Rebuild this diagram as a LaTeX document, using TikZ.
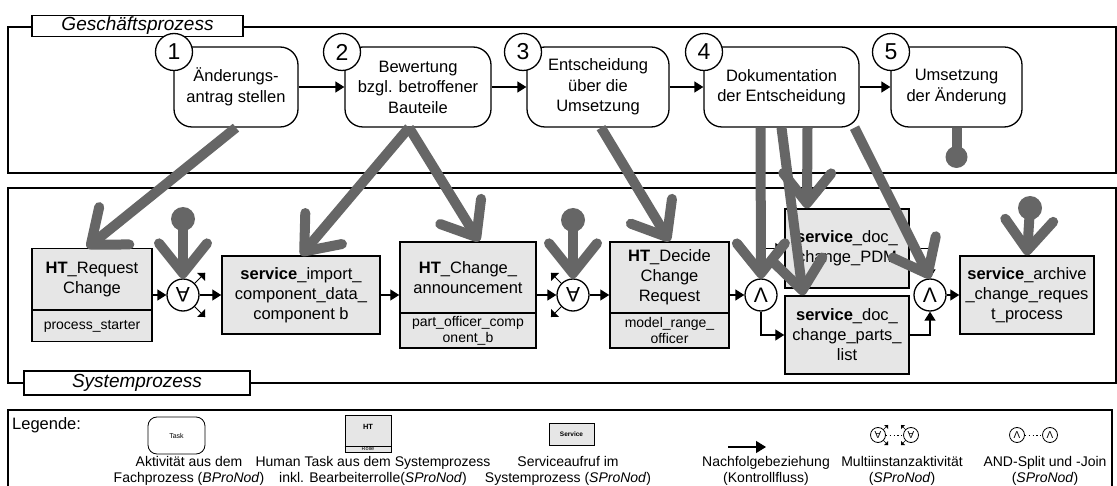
\documentclass[tikz,border=0pt]{standalone}
\usepackage{fontspec}
\usepackage{graphicx}
\setmainfont{Liberation Sans}
\usetikzlibrary{arrows.meta,calc}
\definecolor{garr}{RGB}{102,102,102}
\definecolor{boxfill}{RGB}{230,230,230}
\newcommand{\allq}{\scalebox{1}[-1]{A}}
\begin{document}
\begin{tikzpicture}[x=1pt,y=-1pt,
  frame/.style={draw, line width=1.3pt},
  lbl/.style={draw, line width=1.3pt, fill=white, font=\fontsize{19}{22}\selectfont\itshape, inner sep=0pt},
  task/.style={draw, line width=1.3pt, rounded corners=18pt, fill=white, align=center, font=\fontsize{16.5}{20.5}\selectfont, inner sep=0pt},
  num/.style={circle, draw, line width=1.3pt, fill=white, minimum size=37pt, inner sep=0pt, font=\fontsize{23}{23}\selectfont},
  flow/.style={draw, line width=1.3pt, -{Triangle[length=9pt,width=11pt]}},
  sbox/.style={draw, line width=1.5pt, fill=boxfill, inner sep=0pt, align=center, font=\fontsize{16.5}{20}\selectfont},
  stxt/.style={align=center, font=\fontsize{16.5}{20}\selectfont, inner sep=0pt},
  rtxt/.style={align=center, font=\fontsize{14}{16}\selectfont, inner sep=0pt},
  gate/.style={circle, draw, line width=1.3pt, fill=white, minimum size=32pt, inner sep=0pt, font=\fontsize{21}{21}\selectfont},
  garrow/.style={draw=garr, line width=10pt, -{Straight Barb[length=30pt,width=48pt,round]}},
  ball/.style={circle, fill=garr, minimum size=24pt, inner sep=0pt},
  leg/.style={align=center, font=\fontsize{14}{16}\selectfont, inner sep=0pt},
  lgate/.style={circle, draw, line width=0.8pt, fill=white, minimum size=15pt, inner sep=0pt, font=\fontsize{10}{10}\selectfont},
]
\useasboundingbox (0,0) rectangle (1117,486);

% frames
\draw[frame] (8,27) rectangle (1116,173);
\node[lbl, minimum width=211pt, minimum height=21pt] (gp) at (137.5,26) {Geschäftsprozess};
\draw[frame] (8,188) rectangle (1116,383);
\node[lbl, minimum width=226pt, minimum height=24pt] (sp) at (137,383) {Systemprozess};

% business tasks
\node[task, minimum width=124pt, minimum height=80pt] (t1) at (236,87) {Änderungs-\\antrag stellen};
\node[task, minimum width=146pt, minimum height=80pt] (t2) at (418,87) {Bewertung\\bzgl. betroffener\\Bauteile};
\node[task, minimum width=142pt, minimum height=80pt] (t3) at (598,87) {Entscheidung\\über die\\Umsetzung};
\node[task, minimum width=155pt, minimum height=80pt] (t4) at (781.5,87) {Dokumentation\\der Entscheidung};
\node[task, minimum width=131pt, minimum height=80pt] (t5) at (956.5,87) {Umsetzung\\der Änderung};
\draw[flow] (t1.east) -- (t2.west);
\draw[flow] (t2.east) -- (t3.west);
\draw[flow] (t3.east) -- (t4.west);
\draw[flow] (t4.east) -- (t5.west);
\node[num] (n1) at (174,52) {1};
\node[num] (n2) at (342,52) {2};
\node[num] (n3) at (523,52) {3};
\node[num] (n4) at (704,52) {4};
\node[num] (n5) at (891,52) {5};

% system process
\coordinate (sepA) at (0,310);
\coordinate (sepB) at (0,313);
\node[sbox, minimum width=120pt, minimum height=93pt] (ht1) at (92,295) {};
\draw[line width=1.5pt] (ht1.west |- sepA) -- (ht1.east |- sepA);
\node[stxt] (ht1t) at (92,280) {\textbf{HT}\_Request\\Change};
\node[rtxt] (ht1r) at (92,326) {process\_starter};

\node[sbox, minimum width=158pt, minimum height=78pt] (si) at (301,295) {\textbf{service}\_import\_\\component\_data\_\\component b};

\node[sbox, minimum width=136pt, minimum height=106pt] (htc) at (468,295) {};
\draw[line width=1.5pt] (htc.west |- sepB) -- (htc.east |- sepB);
\node[stxt] (htct) at (468,277.5) {\textbf{HT}\_Change\_\\announcement};
\node[rtxt] (htcr) at (468,330.5) {part\_officer\_comp\\onent\_b};

\node[sbox, minimum width=119pt, minimum height=106pt] (htd) at (669.5,295) {};
\draw[line width=1.5pt] (htd.west |- sepB) -- (htd.east |- sepB);
\node[stxt] (htdt) at (669.5,277.5) {\textbf{HT}\_Decide\\Change\\Request};
\node[rtxt] (htdr) at (669.5,330.5) {model\_range\_\\officer};

\node[sbox, minimum width=124pt, minimum height=79pt] (pdm) at (847,248.5) {\textbf{service}\_doc\_\\change\_PDM};
\node[sbox, minimum width=124pt, minimum height=78pt] (parts) at (847,335) {\textbf{service}\_doc\_\\change\_parts\_\\list};
\node[sbox, minimum width=134pt, minimum height=78pt] (arch) at (1027,295) {\textbf{service}\_archive\\\_change\_reques\\t\_process};

% multi-instance marks
\coordinate (mi1c) at (183,295);
\coordinate (mi2c) at (573,295);
\draw[line width=0.8pt] (mi1c) -- ++(22,-22) (mi1c) -- ++(22,22);
\fill ($(mi1c)+(22,-22)$) -- ++(-8,0) -- ++(8,8) -- cycle;
\fill ($(mi1c)+(22,22)$) -- ++(-8,0) -- ++(8,-8) -- cycle;
\draw[line width=0.8pt] (mi2c) -- ++(-22,-22) (mi2c) -- ++(-22,22);
\fill ($(mi2c)+(-22,-22)$) -- ++(8,0) -- ++(-8,8) -- cycle;
\fill ($(mi2c)+(-22,22)$) -- ++(8,0) -- ++(-8,-8) -- cycle;
\node[gate] (mi1) at (mi1c) {\allq};
\node[gate] (mi2) at (mi2c) {\allq};
\node[gate] (and1) at (761,295) {Λ};
\node[gate] (and2) at (930,295) {Λ};

\draw[flow] (ht1.east) -- (mi1.west);
\draw[flow] (mi1.east) -- (si.west);
\draw[flow] (si.east) -- (htc.west);
\draw[flow] (htc.east) -- (mi2.west);
\draw[flow] (mi2.east) -- (htd.west);
\draw[flow] (htd.east) -- (and1.west);
\draw[flow] (and1.north) |- (pdm.west);
\draw[flow] (and1.south) |- (parts.west);
\draw[flow] (pdm.east) -| (and2.north);
\draw[flow] (parts.east) -| (and2.south);
\draw[flow] (and2.east) -- (arch.west);

% pins
\node[ball] (b1) at (183,219) {};
\node[ball] (b2) at (573,220) {};
\node[ball] (b3) at (1030,208) {};
\node[ball, minimum size=22pt] (b5) at (956.5,157) {};
\draw[garrow] (b1.center) -- (mi1.north);
\draw[garrow] (b2.center) -- (mi2.north);
\draw[garrow] (b3.center) -- (arch.north);
\draw[draw=garr, line width=10pt] (t5.south) -- (b5.center);

% mapping arrows
\draw[garrow] (t1.south) -- ([xshift=-5pt]ht1.north);
\draw[garrow] ([xshift=-9pt]t2.south) -- (si.north);
\draw[garrow] ([xshift=-9pt]t2.south) -- ([xshift=11pt]htc.north);
\draw[garrow] ([xshift=3pt]t3.south) -- (htd.north);
\draw[garrow] ([xshift=-21pt]t4.south) -- (and1.north);
\draw[garrow] (t4.south) -- ([xshift=-44pt]parts.north);
\draw[garrow] ([xshift=26pt]t4.south) -- ([xshift=-40pt]pdm.north);
\draw[garrow] ([xshift=73pt]t4.south) -- (and2.north);

% legend
\draw[frame] (8,495) -- (8,410) -- (1112,410) -- (1112,495);
\node[anchor=west, font=\fontsize{16.5}{20}\selectfont, inner sep=0pt] (lg) at (12,425) {Legende:};

\node[draw, line width=0.8pt, rounded corners=9pt, minimum width=57pt, minimum height=37pt, inner sep=0pt, font=\fontsize{7}{8}\selectfont] (lt) at (176.5,435.5) {Task};
\node[leg] (ltx) at (189,471) {Aktivität aus dem\\Fachprozess (\textit{BProNod})};

\node[draw, line width=0.8pt, fill=boxfill, minimum width=46pt, minimum height=37pt, inner sep=0pt] (lh) at (368,433.5) {};
\coordinate (lsep) at (0,446);
\draw[line width=0.8pt] (lh.west |- lsep) -- (lh.east |- lsep);
\node[inner sep=0pt, font=\bfseries\fontsize{7.5}{8}\selectfont] (lht) at (368,427) {HT};
\node[inner sep=0pt, font=\fontsize{5.5}{6}\selectfont] (lhr) at (368,449) {Rolle};
\node[leg] (lhx) at (373,471) {Human Task aus dem Systemprozess\\inkl. Bearbeiterrolle(\textit{SProNod})};

\node[draw, line width=0.8pt, fill=boxfill, minimum width=45pt, minimum height=22pt, inner sep=0pt, font=\bfseries\fontsize{6.5}{7}\selectfont] (ls) at (571.5,434) {Service};
\node[leg] (lsx) at (568,471) {Serviceaufruf im\\Systemprozess (\textit{SProNod})};

\coordinate (la1) at (728,447);
\coordinate (la2) at (766,447);
\draw[line width=1.3pt, -{Triangle[length=10pt,width=12pt]}] (la1) -- (la2);
\node[leg] (lax) at (766,471) {Nachfolgebeziehung\\(Kontrollfluss)};

\coordinate (lm1c) at (878,435);
\coordinate (lm2c) at (911,435);
\draw[line width=0.6pt] (lm1c) -- ++(10,-10) (lm1c) -- ++(10,10) (lm2c) -- ++(-10,-10) (lm2c) -- ++(-10,10);
\fill ($(lm1c)+(10,-10)$) -- ++(-4,0) -- ++(4,4) -- cycle;
\fill ($(lm1c)+(10,10)$) -- ++(-4,0) -- ++(4,-4) -- cycle;
\fill ($(lm2c)+(-10,-10)$) -- ++(4,0) -- ++(-4,4) -- cycle;
\fill ($(lm2c)+(-10,10)$) -- ++(4,0) -- ++(-4,-4) -- cycle;
\node[lgate] (lm1) at (lm1c) {\allq};
\node[lgate] (lm2) at (lm2c) {\allq};
\draw[line width=1pt, dash pattern=on 1.2pt off 2.6pt] (lm1.east) -- (lm2.west);
\node[leg] (lmx) at (902,471) {Multiinstanzaktivität\\(\textit{SProNod})};

\node[lgate] (ln1) at (1017,435) {Λ};
\node[lgate] (ln2) at (1050,435) {Λ};
\draw[line width=1pt, dash pattern=on 1.2pt off 2.6pt] (ln1.east) -- (ln2.west);
\node[leg] (lnx) at (1045,471) {AND-Split und -Join\\(\textit{SProNod})};
\end{tikzpicture}
\end{document}
